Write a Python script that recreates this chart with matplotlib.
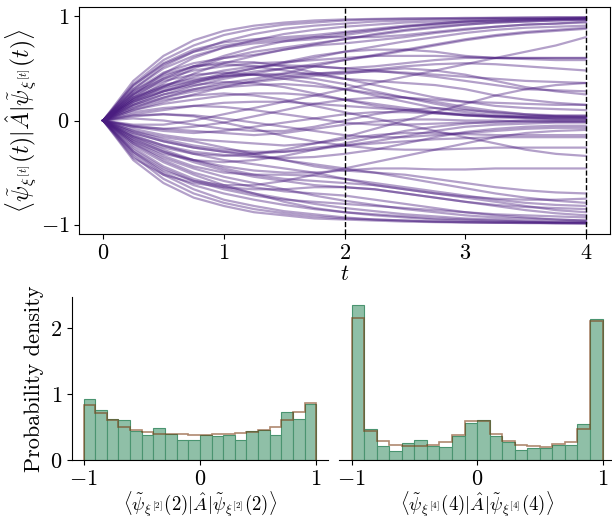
import numpy as np
import matplotlib
matplotlib.use("Agg")
import matplotlib.pyplot as plt

plt.rcParams["mathtext.fontset"] = "cm"
plt.rcParams["font.family"] = "serif"
plt.rcParams["font.serif"] = ["cmr10", "DejaVu Serif"]
plt.rcParams["axes.formatter.use_mathtext"] = True
plt.rcParams["font.size"] = 15

# time grid of the trajectories
t = [0, 0.25, 0.5, 0.75, 1, 1.25, 1.5, 1.75, 2, 2.25, 2.5, 2.75, 3, 3.25, 3.5, 3.75, 4]

# trajectories (expectation value vs t)
trajectories = [
    # collapse towards +1
    [0, .38, .62, .77, .86, .91, .94, .96, .97, .975, .98, .98, .985, .985, .99, .99, .99],
    [0, .35, .58, .72, .82, .88, .92, .94, .96, .97, .975, .98, .98, .985, .985, .99, .99],
    [0, .30, .52, .66, .76, .83, .88, .91, .93, .95, .96, .97, .975, .98, .98, .98, .985],
    [0, .25, .45, .60, .70, .77, .83, .87, .90, .92, .94, .95, .96, .97, .97, .975, .98],
    [0, .22, .40, .52, .62, .70, .76, .80, .84, .87, .90, .92, .94, .95, .96, .97, .97],
    [0, .28, .46, .55, .60, .63, .68, .73, .78, .83, .87, .90, .92, .94, .95, .96, .97],
    [0, .18, .32, .45, .55, .62, .68, .72, .74, .77, .80, .84, .87, .90, .92, .93, .95],
    [0, .20, .30, .38, .45, .50, .55, .60, .66, .71, .76, .80, .84, .87, .89, .90, .91],
    [0, .15, .25, .33, .40, .45, .50, .54, .58, .62, .67, .72, .77, .81, .84, .86, .88],
    [0, .33, .55, .68, .75, .78, .80, .82, .85, .88, .91, .93, .95, .96, .97, .975, .98],
    [0, .12, .22, .30, .36, .40, .45, .52, .58, .63, .68, .73, .78, .82, .85, .87, .89],
    [0, .30, .50, .62, .70, .74, .76, .78, .82, .86, .90, .93, .95, .96, .97, .975, .98],
    [0, .20, .36, .50, .60, .66, .70, .74, .78, .82, .86, .89, .92, .94, .95, .96, .965],
    [0, .34, .54, .66, .72, .76, .78, .80, .80, .80, .82, .85, .88, .90, .92, .93, .94],
    # upper middle
    [0, .26, .40, .48, .52, .55, .56, .58, .60, .62, .62, .62, .61, .60, .60, .60, .60],
    [0, .20, .33, .42, .48, .52, .53, .52, .50, .52, .55, .58, .60, .60, .59, .58, .58],
    [0, .22, .34, .40, .43, .44, .45, .45, .46, .47, .46, .44, .42, .40, .38, .37, .36],
    [0, .18, .28, .36, .42, .47, .50, .52, .50, .48, .45, .42, .38, .34, .30, .29, .28],
    [0, .15, .25, .30, .34, .37, .40, .43, .45, .48, .50, .48, .44, .38, .32, .28, .25],
    [0, .10, .18, .25, .32, .38, .42, .45, .47, .49, .52, .54, .55, .54, .52, .50, .48],
    [0, .28, .44, .52, .54, .52, .48, .44, .40, .38, .36, .34, .30, .24, .20, .17, .15],
    [0, -.04, -.04, .00, .06, .12, .18, .24, .30, .36, .42, .48, .54, .60, .66, .72, .80],
    # collapse towards 0
    [0, .14, .22, .28, .32, .34, .35, .33, .30, .26, .22, .18, .13, .09, .06, .04, .03],
    [0, .10, .16, .20, .24, .26, .26, .24, .20, .16, .12, .08, .05, .03, .02, .01, .01],
    [0, .06, .10, .14, .17, .18, .18, .16, .14, .12, .10, .08, .06, .04, .03, .02, .02],
    [0, -.05, -.08, -.10, -.12, -.14, -.12, -.08, -.04, -.01, .01, .01, .00, .00, -.01, -.01, -.01],
    [0, .08, .12, .14, .13, .10, .06, .02, -.02, -.04, -.04, -.03, -.02, -.02, -.01, -.01, -.01],
    [0, -.10, -.18, -.24, -.28, -.30, -.30, -.28, -.24, -.20, -.15, -.10, -.06, -.04, -.03, -.02, -.02],
    [0, .18, .28, .34, .37, .36, .32, .26, .20, .14, .10, .07, .05, .04, .03, .03, .03],
    [0, -.15, -.24, -.30, -.33, -.35, -.36, -.35, -.32, -.28, -.22, -.16, -.11, -.08, -.06, -.05, -.05],
    [0, .04, .06, .05, .02, -.02, -.06, -.10, -.14, -.16, -.16, -.14, -.12, -.10, -.08, -.07, -.07],
    [0, -.06, -.10, -.12, -.10, -.06, -.02, .02, .06, .08, .08, .07, .05, .04, .04, .04, .04],
    [0, .22, .32, .38, .42, .44, .43, .40, .35, .28, .22, .16, .11, .07, .05, .04, .04],
    [0, .24, .38, .44, .46, .44, .40, .36, .30, .24, .18, .12, .08, .05, .03, .02, .02],
    [0, -.20, -.32, -.38, -.40, -.38, -.34, -.28, -.22, -.16, -.10, -.06, -.03, -.01, .00, .00, .00],
    [0, .02, .00, -.04, -.08, -.10, -.10, -.06, .00, .06, .10, .12, .10, .08, .06, .05, .05],
    # lower middle
    [0, -.08, -.14, -.18, -.20, -.22, -.24, -.22, -.18, -.14, -.12, -.12, -.13, -.14, -.14, -.14, -.14],
    [0, -.12, -.20, -.26, -.30, -.32, -.30, -.26, -.24, -.22, -.20, -.18, -.17, -.16, -.16, -.16, -.16],
    [0, .05, .06, .04, -.02, -.08, -.15, -.20, -.24, -.27, -.28, -.28, -.27, -.26, -.26, -.26, -.26],
    [0, -.18, -.30, -.38, -.44, -.48, -.50, -.50, -.48, -.46, -.46, -.47, -.47, -.46, -.46, -.46, -.46],
    [0, -.10, -.16, -.20, -.26, -.32, -.38, -.44, -.48, -.50, -.52, -.56, -.60, -.64, -.67, -.69, -.70],
    [0, -.30, -.48, -.58, -.62, -.62, -.58, -.52, -.46, -.40, -.34, -.28, -.22, -.16, -.12, -.10, -.09],
    [0, -.16, -.28, -.38, -.46, -.52, -.56, -.58, -.60, -.62, -.66, -.70, -.73, -.75, -.76, -.76, -.75],
    # collapse towards -1
    [0, -.38, -.60, -.74, -.82, -.88, -.91, -.94, -.95, -.96, -.97, -.975, -.98, -.98, -.985, -.985, -.99],
    [0, -.34, -.56, -.70, -.79, -.85, -.89, -.92, -.94, -.95, -.96, -.97, -.975, -.98, -.98, -.985, -.985],
    [0, -.30, -.50, -.62, -.70, -.76, -.81, -.85, -.88, -.90, -.92, -.94, -.95, -.96, -.97, -.975, -.98],
    [0, -.26, -.44, -.56, -.64, -.70, -.75, -.80, -.84, -.87, -.90, -.92, -.94, -.95, -.96, -.97, -.97],
    [0, -.22, -.36, -.46, -.54, -.60, -.66, -.72, -.77, -.81, -.85, -.88, -.91, -.93, -.94, -.95, -.96],
    [0, -.28, -.46, -.58, -.66, -.72, -.76, -.78, -.80, -.82, -.84, -.86, -.88, -.90, -.91, -.92, -.93],
    [0, -.18, -.30, -.40, -.48, -.54, -.58, -.62, -.64, -.66, -.70, -.74, -.78, -.82, -.86, -.89, -.91],
    [0, -.14, -.24, -.32, -.38, -.42, -.46, -.50, -.56, -.62, -.66, -.70, -.74, -.78, -.82, -.86, -.88],
    [0, -.36, -.52, -.60, -.64, -.66, -.66, -.64, -.64, -.66, -.70, -.74, -.78, -.81, -.83, -.84, -.85],
    [0, -.20, -.34, -.44, -.50, -.52, -.52, -.53, -.56, -.60, -.64, -.68, -.72, -.76, -.79, -.81, -.82],
    [0, -.24, -.40, -.52, -.62, -.70, -.78, -.84, -.88, -.91, -.93, -.95, -.96, -.97, -.975, -.98, -.98],
    [0, -.12, -.20, -.26, -.30, -.34, -.38, -.42, -.46, -.50, -.55, -.60, -.65, -.70, -.74, -.77, -.79],
    [0, -.32, -.52, -.66, -.76, -.82, -.87, -.90, -.93, -.95, -.96, -.97, -.975, -.98, -.98, -.985, -.985],
    [0, -.22, -.38, -.50, -.58, -.64, -.68, -.70, -.72, -.76, -.80, -.84, -.88, -.91, -.93, -.95, -.96],
    # crossing ones
    [0, .12, .20, .24, .26, .24, .20, .14, .08, .02, -.04, -.10, -.16, -.22, -.28, -.32, -.34],
    [0, -.06, -.08, -.06, -.02, .04, .10, .16, .20, .22, .22, .20, .18, .17, .16, .15, .15],
    [0, .25, .42, .52, .56, .56, .52, .46, .40, .34, .28, .22, .18, .14, .12, .11, .10],
    [0, -.16, -.26, -.32, -.34, -.32, -.28, -.22, -.16, -.08, .00, .08, .16, .24, .30, .34, .36],
    [0, .16, .28, .36, .44, .50, .56, .62, .66, .68, .68, .66, .62, .60, .60, .60, .60],
]

# histograms (bin width 0.1 on [-1, 1])
bin_edges = [-1.0, -0.9, -0.8, -0.7, -0.6, -0.5, -0.4, -0.3, -0.2, -0.1, 0.0,
             0.1, 0.2, 0.3, 0.4, 0.5, 0.6, 0.7, 0.8, 0.9, 1.0]
hist_t2 = [0.93, 0.755, 0.627, 0.607, 0.435, 0.38, 0.49, 0.395, 0.296, 0.31,
           0.375, 0.365, 0.38, 0.296, 0.44, 0.45, 0.385, 0.726, 0.62, 0.855]
exact_t2 = [0.825, 0.716, 0.6, 0.494, 0.46, 0.42, 0.395, 0.39, 0.39, 0.375,
            0.38, 0.39, 0.395, 0.405, 0.42, 0.455, 0.50, 0.6, 0.726, 0.86]
hist_t4 = [2.35, 0.464, 0.217, 0.138, 0.257, 0.296, 0.217, 0.198, 0.365, 0.558,
           0.612, 0.37, 0.27, 0.153, 0.188, 0.188, 0.232, 0.227, 0.538, 2.14]
exact_t4 = [2.153, 0.444, 0.29, 0.232, 0.217, 0.217, 0.232, 0.267, 0.385, 0.593,
            0.593, 0.395, 0.28, 0.222, 0.207, 0.2, 0.237, 0.277, 0.464, 2.1]

purple = "#4a1d80"
bar_color = "#8fbfa7"
bar_edge = "#4a9470"
step_color = "#7a3b10"

fig = plt.figure(figsize=(6.12, 5.2), dpi=100)
ax_top = fig.add_axes([0.129, 0.55, 0.868, 0.4365])
ax_l = fig.add_axes([0.1176, 0.1154, 0.418, 0.3135])
ax_r = fig.add_axes([0.554, 0.1154, 0.451, 0.3135], sharey=ax_l)

# Top panel: trajectories
for traj in trajectories:
    ax_top.plot(t, traj, color=purple, alpha=0.42, lw=1.6)
for tv in (2, 4):
    ax_top.axvline(tv, color="black", ls="--", lw=1)
ax_top.set_xticks([0, 1, 2, 3, 4])
ax_top.set_yticks([-1, 0, 1])
ax_top.tick_params(labelsize=16)
ax_top.set_xlabel(r"$t$", labelpad=1, fontsize=16)
ax_top.set_ylabel(r"$\langle\tilde{\psi}_{\xi^{[t]}}(t)|\hat{A}|\tilde{\psi}_{\xi^{[t]}}(t)\rangle$",
                  labelpad=1, fontsize=17)

# Bottom panels: histograms
widths = np.diff(bin_edges)
for ax, h, ex, lab in [
    (ax_l, hist_t2, exact_t2, r"$\langle\tilde{\psi}_{\xi^{[2]}}(2)|\hat{A}|\tilde{\psi}_{\xi^{[2]}}(2)\rangle$"),
    (ax_r, hist_t4, exact_t4, r"$\langle\tilde{\psi}_{\xi^{[4]}}(4)|\hat{A}|\tilde{\psi}_{\xi^{[4]}}(4)\rangle$"),
]:
    ax.bar(bin_edges[:-1], h, width=widths, align="edge",
           color=bar_color, edgecolor=bar_edge, lw=0.8)
    ax.stairs(ex, bin_edges, baseline=0, color=step_color, alpha=0.6, lw=1.2)
    ax.set_xticks([-1, 0, 1])
    ax.tick_params(labelsize=16)
    ax.set_xlabel(lab, labelpad=0, fontsize=13.5)
    ax.spines["top"].set_visible(False)
    ax.spines["right"].set_visible(False)

ax_l.set_yticks([0, 1, 2])
ax_l.set_ylabel("Probability density", fontsize=16)
ax_r.spines["left"].set_visible(False)
ax_r.tick_params(axis="y", left=False, labelleft=False)

fig.savefig("out.png", dpi=100)
